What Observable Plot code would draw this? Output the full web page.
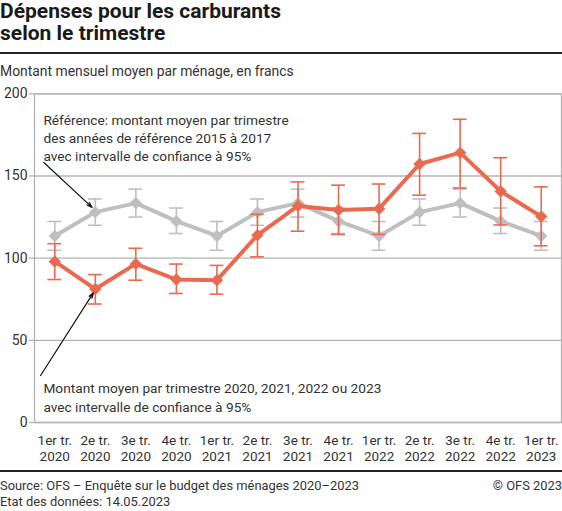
<!DOCTYPE html>
<html>
<head>
<meta charset="utf-8">
<script src="https://cdn.jsdelivr.net/npm/d3@7"></script>
<script src="https://cdn.jsdelivr.net/npm/@observablehq/plot@0.6"></script>
<style>
  body { margin: 0; background: #fff; font-family: Roboto, "Noto Sans", sans-serif; color: #333; }
  #wrap { position: relative; width: 562px; height: 511px; overflow: hidden; }
  #title { position: absolute; top: 0; left: 0; font-weight: 700; font-size: 21px; line-height: 22.4px; color: #1a1a1a; }
  .rule { position: absolute; left: 0; width: 562px; height: 2px; background: #222; }
  #subtitle { position: absolute; top: 63px; left: 0; font-size: 13.9px; line-height: 16px; color: #333; }
  #chart { position: absolute; top: 80px; left: 0; }
  #footer { position: absolute; top: 478px; left: 0; font-size: 12.9px; line-height: 16px; color: #333; }
  #copy { position: absolute; top: 478px; right: 0; font-size: 12.9px; line-height: 16px; color: #333; }
</style>
</head>
<body>
<div id="wrap">
  <div id="title">Dépenses pour les carburants<br>selon le trimestre</div>
  <div class="rule" style="top:52px"></div>
  <div id="subtitle">Montant mensuel moyen par ménage, en francs</div>
  <div id="chart"></div>
  <div class="rule" style="top:470px"></div>
  <div id="footer">Source: OFS – Enquête sur le budget des ménages 2020–2023<br>Etat des données: 14.05.2023</div>
  <div id="copy">© OFS 2023</div>
</div>
<script>
// Quarter labels (x axis)
const quarterLabels = [
  "1er tr.\n2020", "2e tr.\n2020", "3e tr.\n2020", "4e tr.\n2020",
  "1er tr.\n2021", "2e tr.\n2021", "3e tr.\n2021", "4e tr.\n2021",
  "1er tr.\n2022", "2e tr.\n2022", "3e tr.\n2022", "4e tr.\n2022",
  "1er tr.\n2023"
];
// Reference 2015–2017 (grey)
const refValues = [113.5, 128, 133.5, 122.5, 113.5, 128, 133.5, 122.5, 113.5, 128, 133.5, 122.5, 113.5];
const refLow    = [104.8, 120, 125, 115, 104.8, 120, 125, 115, 104.8, 120, 125, 115, 104.8];
const refHigh   = [122.3, 136, 142, 130.5, 122.3, 136, 142, 130.5, 122.3, 136, 142, 130.5, 122.3];
// Actual 2020–2023 (red)
const curValues = [98, 81.2, 96.5, 87, 86.6, 114, 131.8, 129.3, 130.1, 157.3, 164.2, 140.7, 125.3];
const curLow    = [87, 72.1, 86.6, 78.5, 78.1, 100.8, 116.4, 114.4, 114.4, 138.3, 142.7, 120.2, 107.5];
const curHigh   = [108.8, 90, 106, 96.4, 95.6, 126.7, 146.4, 144.4, 145.1, 175.9, 184.5, 161.1, 143.4];
// y ticks
const yTicks = [0, 50, 100, 150, 200];
// Annotations (data coordinates: x = quarter index, y = francs)
const annotTexts = [
  "Référence: montant moyen par trimestre\ndes années de référence 2015 à 2017\navec intervalle de confiance à 95%",
  "Montant moyen par trimestre 2020, 2021, 2022 ou 2023\navec intervalle de confiance à 95%"
];
const annotX = [-0.28, -0.28];
const annotY = [188.8, 25.5];
const arrowX1 = [-0.27, -0.35];
const arrowY1 = [158.2, 28.6];
const arrowX2 = [0.92, 0.955];
const arrowY2 = [130.9, 79.0];

const RED = "#e96a50";
const GREY = "#bfbfbf";

const ref = refValues.map((v, i) => ({i, v, lo: refLow[i], hi: refHigh[i]}));
const cur = curValues.map((v, i) => ({i, v, lo: curLow[i], hi: curHigh[i]}));
const annots = annotTexts.map((t, k) => ({t, x: annotX[k], y: annotY[k]}));
const arrows = arrowX1.map((x1, k) => ({x1, y1: arrowY1[k], x2: arrowX2[k], y2: arrowY2[k]}));
const capHalf = 0.17;

function series(data, color) {
  return [
    Plot.ruleX(data, {x: "i", y1: "lo", y2: "hi", stroke: color, strokeWidth: 1.6}),
    Plot.ruleY(data, {y: "lo", x1: d => d.i - capHalf, x2: d => d.i + capHalf, stroke: color, strokeWidth: 1.6}),
    Plot.ruleY(data, {y: "hi", x1: d => d.i - capHalf, x2: d => d.i + capHalf, stroke: color, strokeWidth: 1.6}),
    Plot.line(data, {x: "i", y: "v", stroke: color, strokeWidth: 4, strokeLinejoin: "round"}),
    Plot.dot(data, {x: "i", y: "v", symbol: "diamond2", r: 5.6, fill: color, stroke: null})
  ];
}

const chart = Plot.plot({
  width: 562,
  height: 387,
  marginTop: 13.3,
  marginBottom: 45,
  marginLeft: 34,
  marginRight: 1,
  style: {fontFamily: "Roboto, sans-serif", background: "transparent", color: "#333"},
  x: {type: "linear", domain: [-0.5, 12.5]},
  y: {domain: [0, 200]},
  marks: [
    Plot.gridY(yTicks, {stroke: "#b3b3b3", strokeOpacity: 1, strokeWidth: 1.3}),
    Plot.frame({stroke: "#b3b3b3", strokeWidth: 1.3}),
    Plot.axisY(yTicks, {tickSize: 5, tickPadding: 2, fontSize: 14, stroke: "#b3b3b3", strokeWidth: 1.3, fill: "#333", label: null}),
    Plot.axisX(d3.range(quarterLabels.length), {tickFormat: i => quarterLabels[i], tickSize: 0, tickPadding: 11, fontSize: 13.5, lineHeight: 1.2, fill: "#333", label: null}),
    ...series(ref, GREY),
    ...series(cur, RED),
    Plot.text(annots, {x: "x", y: "y", text: "t", textAnchor: "start", lineAnchor: "top", fontSize: 13.7, lineHeight: 1.32, fill: "#333"}),
    Plot.arrow(arrows, {x1: "x1", y1: "y1", x2: "x2", y2: "y2", stroke: "#111", strokeWidth: 1.2, headLength: 7, headAngle: 35})
  ]
});
document.getElementById("chart").appendChild(chart);
</script>
</body>
</html>
